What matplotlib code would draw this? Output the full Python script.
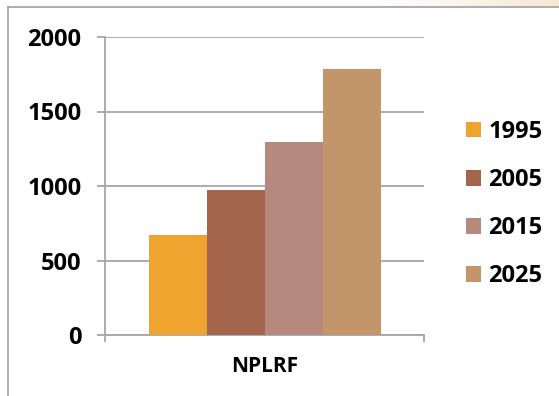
import matplotlib
matplotlib.use("Agg")
import matplotlib.pyplot as plt
import numpy as np
from matplotlib.lines import Line2D

plt.rcParams["font.family"] = ["Open Sans", "DejaVu Sans"]
plt.rcParams["font.weight"] = "bold"

# Values per year for the single category
category = "NPLRF"
years = ["1995", "2005", "2015", "2025"]
values = [670, 975, 1295, 1785]
colors = ["#F0A430", "#A5654D", "#B5897E", "#C2966A"]

yticks = [0, 500, 1000, 1500, 2000]

W, H = 559, 396
fig = plt.figure(figsize=(W / 100, H / 100), dpi=100)
fig.patch.set_facecolor("white")

# faint warm strip along the top edge, right side
strip = fig.add_axes([380 / W, 1 - 7 / H, 179 / W, 7 / H])
grad = np.linspace(0, 1, 200)
rgb = np.ones((1, 200, 3))
rgb[0, :, 0] = 1 - 0.04 * grad
rgb[0, :, 1] = 1 - 0.09 * grad
rgb[0, :, 2] = 1 - 0.16 * grad
strip.imshow(rgb, aspect="auto", interpolation="bicubic")
strip.set_axis_off()

# frame lines around the chart area
fig.add_artist(Line2D([8 / W, 8 / W], [0, 1 - 7 / H], color="#a0a0a0", lw=1.2))
fig.add_artist(Line2D([8 / W, 1], [1 - 7 / H, 1 - 7 / H], color="#a0a0a0", lw=1.2))

ax = fig.add_axes([105 / W, 1 - 335 / H, 319 / W, 298 / H])

width = 1 / 5.5
n = len(years)
for i, (yr, v, c) in enumerate(zip(years, values, colors)):
    ax.bar((i - (n - 1) / 2) * width, v, width=width, color=c, label=yr, zorder=3)

ax.set_xlim(-0.5, 0.5)
ax.set_ylim(0, 2000)
ax.set_yticks(yticks)
ax.yaxis.grid(True, color="#a6a6a6", lw=1.3, zorder=0)
ax.set_axisbelow(True)

for s in ["top", "right"]:
    ax.spines[s].set_visible(False)
for s in ["left", "bottom"]:
    ax.spines[s].set_color("#a6a6a6")
    ax.spines[s].set_linewidth(1.3)

ax.tick_params(axis="y", length=6, width=1.3, color="#a6a6a6", pad=11,
               labelcolor="black")
ax.set_xticks([0])
ax.set_xticks([-0.5, 0.5], minor=True)
ax.tick_params(axis="x", which="major", length=0, pad=15)
ax.tick_params(axis="x", which="minor", length=5, width=1.3, color="#a6a6a6")
ax.set_xticklabels([category], fontsize=15, fontweight="bold")
for t in ax.get_yticklabels():
    t.set_fontsize(17)
    t.set_fontweight("bold")

fig.legend(loc="center left", bbox_to_anchor=(466 / W, 1 - 204 / H),
           frameon=False, handlelength=0.65, handleheight=0.65,
           handletextpad=0.3, labelspacing=1.02, borderpad=0, borderaxespad=0,
           prop={"size": 17, "weight": "bold"})

fig.savefig("out.png", dpi=100, facecolor="white")
